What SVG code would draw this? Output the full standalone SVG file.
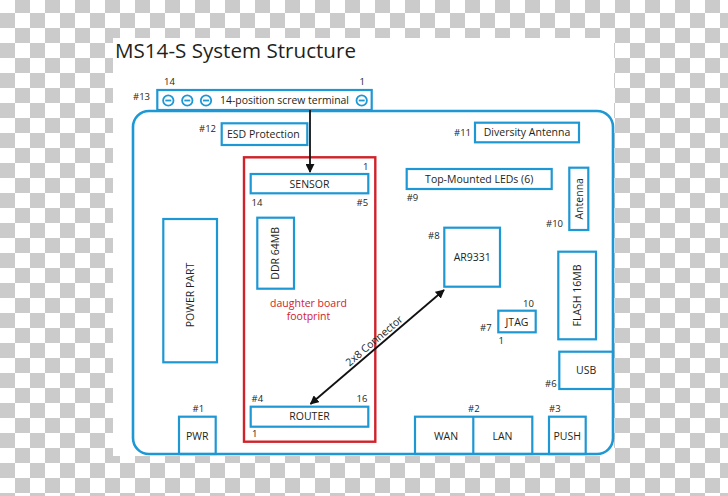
<svg xmlns="http://www.w3.org/2000/svg" width="728" height="496" viewBox="0 0 728 496">
<defs>
<pattern id="checker" width="30" height="30" patternUnits="userSpaceOnUse" patternTransform="translate(0,-2)">
<rect width="30" height="30" fill="#ffffff"/>
<rect x="15" y="0" width="15" height="15" fill="#cbcbcb"/>
<rect x="0" y="15" width="15" height="15" fill="#cbcbcb"/>
</pattern>
<marker id="ah" viewBox="0 0 10 10" refX="9" refY="5" markerWidth="9" markerHeight="9" markerUnits="userSpaceOnUse" orient="auto-start-reverse">
<path d="M0,0 L10,5 L0,10 z" fill="#111"/>
</marker>
<style>
.box{fill:none;stroke:#1e98d4;stroke-width:2.2}
.board{fill:none;stroke:#1e98d4;stroke-width:2.6}
.red{fill:none;stroke:#d0222b;stroke-width:2.4}
.t{font-family:"Open Sans","Noto Sans",sans-serif;font-size:10.5px;fill:#231f20}
.n{font-family:"Open Sans","Noto Sans",sans-serif;font-size:9.5px;fill:#231f20}
.c{text-anchor:middle}
.rt{font-family:"Open Sans","Noto Sans",sans-serif;font-size:10.5px;fill:#d0222b;text-anchor:middle}
.wire{stroke:#111;stroke-width:1.8;fill:none}
</style>
</defs>
<rect width="728" height="496" fill="url(#checker)"/>
<rect x="113" y="38" width="501" height="418" fill="#ffffff"/>
<text x="115" y="58" font-family="'Open Sans','Noto Sans',sans-serif" font-size="20.5" fill="#231f20" textLength="241" lengthAdjust="spacingAndGlyphs">MS14-S System Structure</text>

<g id="board"><rect class="board" x="133" y="111" width="480" height="343" rx="16"/></g>

<g id="terminal">
<rect class="box" x="157.3" y="90" width="214.4" height="20"/>
<g fill="none" stroke="#1e98d4" stroke-width="1.8">
<circle cx="168.3" cy="100.5" r="5.2"/><line x1="165.3" y1="100.5" x2="171.3" y2="100.5"/>
<circle cx="187.3" cy="100.5" r="5.2"/><line x1="184.3" y1="100.5" x2="190.3" y2="100.5"/>
<circle cx="206" cy="100.5" r="5.2"/><line x1="203" y1="100.5" x2="209" y2="100.5"/>
<circle cx="361.7" cy="100.5" r="5.2"/><line x1="358.7" y1="100.5" x2="364.7" y2="100.5"/>
</g>
<text class="t" x="220" y="104.3" textLength="129" lengthAdjust="spacingAndGlyphs">14-position screw terminal</text>
<text class="n" x="164" y="85.3">14</text>
<text class="n" x="359.5" y="85.3">1</text>
<text class="n" x="133" y="100">#13</text>
</g>

<g id="esd">
<rect class="box" x="221.7" y="123.3" width="85.6" height="21.7"/>
<text class="t" x="227" y="138.3">ESD Protection</text>
<text class="n" x="199" y="131.7">#12</text>
</g>

<g id="daughter">
<rect class="red" x="244" y="157.3" width="131.3" height="284.4"/>
<text class="rt" x="308.5" y="306.5">daughter board</text>
<text class="rt" x="308.5" y="320">footprint</text>
</g>

<g id="sensor">
<rect class="box" x="250.7" y="174" width="117.6" height="19.3"/>
<text class="t c" x="309.5" y="187.5">SENSOR</text>
<text class="n" x="363" y="170">1</text>
<text class="n" x="251.5" y="206">14</text>
<text class="n" x="356.5" y="206">#5</text>
</g>

<g id="ddr">
<rect class="box" x="257.3" y="217.7" width="36.7" height="71"/>
<text class="t c" transform="translate(279.4,253.3) rotate(-90)">DDR 64MB</text>
</g>

<g id="power">
<rect class="box" x="163.3" y="219" width="53.7" height="143.3"/>
<text class="t c" transform="translate(193.8,295) rotate(-90)">POWER PART</text>
</g>

<g id="router">
<rect class="box" x="250.7" y="406.7" width="117.6" height="20"/>
<text class="t c" x="309.5" y="420.3">ROUTER</text>
<text class="n" x="251.5" y="401.7">#4</text>
<text class="n" x="356.5" y="401.7">16</text>
<text class="n" x="252" y="437">1</text>
</g>

<g id="ar9331">
<rect class="box" x="444.3" y="227.7" width="55.7" height="59"/>
<text class="t c" x="472.2" y="260.5">AR9331</text>
<text class="n" x="428" y="238.5">#8</text>
</g>

<g id="leds">
<rect class="box" x="406.7" y="169" width="145" height="20"/>
<text class="t c" x="479.2" y="182.8">Top-Mounted LEDs (6)</text>
<text class="n" x="406.7" y="200.5">#9</text>
</g>

<g id="diversity">
<rect class="box" x="475" y="122.7" width="104" height="19.6"/>
<text class="t c" x="527" y="136.2">Diversity Antenna</text>
<text class="n" x="454" y="136.2">#11</text>
</g>

<g id="antenna">
<rect class="box" x="569.3" y="167.7" width="19" height="62.3"/>
<text class="t c" transform="translate(582.7,198.8) rotate(-90)">Antenna</text>
<text class="n" x="546" y="227">#10</text>
</g>

<g id="flash">
<rect class="box" x="558.3" y="251.7" width="37.7" height="87.6"/>
<text class="t c" transform="translate(580.6,295.5) rotate(-90)">FLASH 16MB</text>
</g>

<g id="jtag">
<rect class="box" x="498.3" y="310.7" width="37.4" height="21.6"/>
<text class="t c" x="517" y="325.5">JTAG</text>
<text class="n" x="523" y="307">10</text>
<text class="n" x="480" y="331">#7</text>
<text class="n" x="498.5" y="344">1</text>
</g>

<g id="usb">
<rect class="box" x="559.3" y="351.7" width="53.7" height="37.3"/>
<text class="t c" x="586.2" y="374">USB</text>
<text class="n" x="545" y="386.5">#6</text>
</g>

<g id="wanlan">
<rect class="box" x="415" y="416.7" width="117.3" height="37.3"/>
<line class="box" x1="473.3" y1="416.7" x2="473.3" y2="454"/>
<text class="t c" x="446" y="440">WAN</text>
<text class="t c" x="502.5" y="440">LAN</text>
<text class="n" x="468" y="412.3">#2</text>
</g>

<g id="push">
<rect class="box" x="549" y="416.7" width="36.7" height="37.3"/>
<text class="t c" x="567.3" y="440">PUSH</text>
<text class="n" x="549" y="412.3">#3</text>
</g>

<g id="pwr">
<rect class="box" x="179" y="416.7" width="36.7" height="37.3"/>
<text class="t c" x="197.3" y="440.3">PWR</text>
<text class="n c" x="198.3" y="411.7">#1</text>
</g>

<g id="connectors">
<line class="wire" x1="310" y1="110" x2="310" y2="172" marker-end="url(#ah)"/>
<line class="wire" x1="310.5" y1="404" x2="444" y2="290" marker-start="url(#ah)" marker-end="url(#ah)"/>
<text class="t c" transform="translate(376.5,343.5) rotate(-40.5)">2x8 Connector</text>
</g>
</svg>
